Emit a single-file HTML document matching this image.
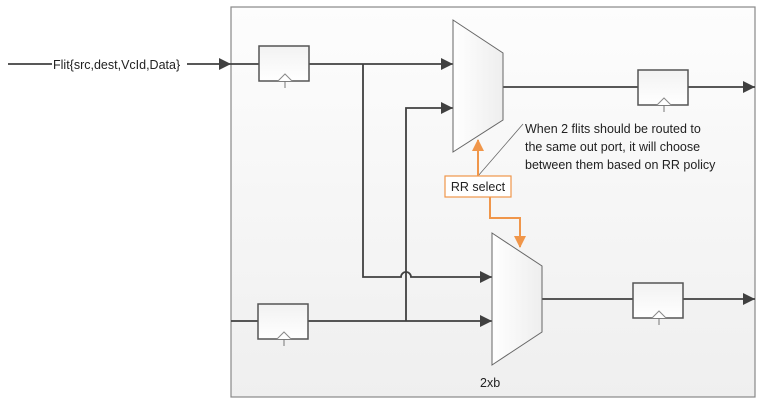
<!DOCTYPE html>
<html><head><style>
body{margin:0;background:#fff;}
svg{display:block;font-family:"Liberation Sans",sans-serif;}
</style></head><body>
<svg width="766" height="408" viewBox="0 0 766 408" xmlns="http://www.w3.org/2000/svg">
<defs>
<linearGradient id="bg" x1="0" y1="0" x2="0" y2="1"><stop offset="0" stop-color="#fdfdfd"/><stop offset="1" stop-color="#efefef"/></linearGradient>
<linearGradient id="mx" x1="0" y1="0" x2="1" y2="0"><stop offset="0" stop-color="#ffffff"/><stop offset="1" stop-color="#eeeeee"/></linearGradient>
<linearGradient id="rg" x1="0" y1="0" x2="0" y2="1"><stop offset="0" stop-color="#f2f2f2"/><stop offset="1" stop-color="#ffffff"/></linearGradient>
<marker id="ar" markerWidth="12" markerHeight="12" refX="12" refY="6" orient="auto" markerUnits="userSpaceOnUse"><path d="M0,0 L12,6 L0,12 z" fill="#404040"/></marker>
<marker id="ao" markerWidth="12" markerHeight="12" refX="11" refY="6" orient="auto" markerUnits="userSpaceOnUse"><path d="M0,0 L12,6 L0,12 z" fill="#f0964a"/></marker>
<g id="reg"><rect x="0" y="0" width="50" height="35" fill="url(#rg)" stroke="#555" stroke-width="1.5"/><path d="M19,35 L26,28 L33,35" fill="#fff" stroke="#888"/><line x1="26" y1="35" x2="26" y2="42" stroke="#777"/></g>
</defs>
<rect x="231" y="7" width="524" height="390" fill="url(#bg)" stroke="#888" stroke-width="1.2"/>
<g stroke="#404040" stroke-width="1.8" fill="none">
<line x1="8" y1="64" x2="52" y2="64"/>
<line x1="187" y1="64" x2="231" y2="64" marker-end="url(#ar)"/>
<line x1="231" y1="64" x2="453" y2="64" marker-end="url(#ar)"/>
<path d="M363,64 V277 H401 a5,5 0 0 1 10,0 H492" marker-end="url(#ar)"/>
<path d="M406,321 V108 H453" marker-end="url(#ar)"/>
<line x1="231" y1="321" x2="492" y2="321" marker-end="url(#ar)"/>
<line x1="503" y1="87" x2="755" y2="87" marker-end="url(#ar)"/>
<line x1="542" y1="299" x2="755" y2="299" marker-end="url(#ar)"/>
</g>
<use href="#reg" x="259" y="46"/>
<use href="#reg" x="258" y="304"/>
<use href="#reg" x="638" y="70"/>
<use href="#reg" x="633" y="283"/>
<polygon points="453,20 503,53 503,120 453,152" fill="url(#mx)" stroke="#666"/>
<polygon points="492,233 542,266 542,332 492,365" fill="url(#mx)" stroke="#666"/>
<line x1="478" y1="176" x2="523" y2="124" stroke="#666" stroke-width="0.8"/>
<line x1="478" y1="176" x2="478" y2="140" stroke="#f0964a" stroke-width="2" marker-end="url(#ao)"/>
<path d="M490,197 V218 H520 V247" stroke="#f0964a" stroke-width="2" fill="none" marker-end="url(#ao)"/>
<rect x="445" y="176" width="66" height="21" fill="#fff" stroke="#f0964a" stroke-width="1.2"/>
<text x="478" y="191" font-size="12.5" text-anchor="middle" fill="#222">RR select</text>
<rect x="52" y="56" width="135" height="16" fill="#fff"/>
<text x="53" y="69" font-size="12.5" fill="#222">Flit{src,dest,VcId,Data}</text>
<g font-size="12.5" fill="#222">
<text x="525" y="133">When 2 flits should be routed to</text>
<text x="525" y="151">the same out port, it will choose</text>
<text x="525" y="169">between them based on RR policy</text>
<text x="480" y="387">2xb</text>
</g>
</svg>
</body></html>
